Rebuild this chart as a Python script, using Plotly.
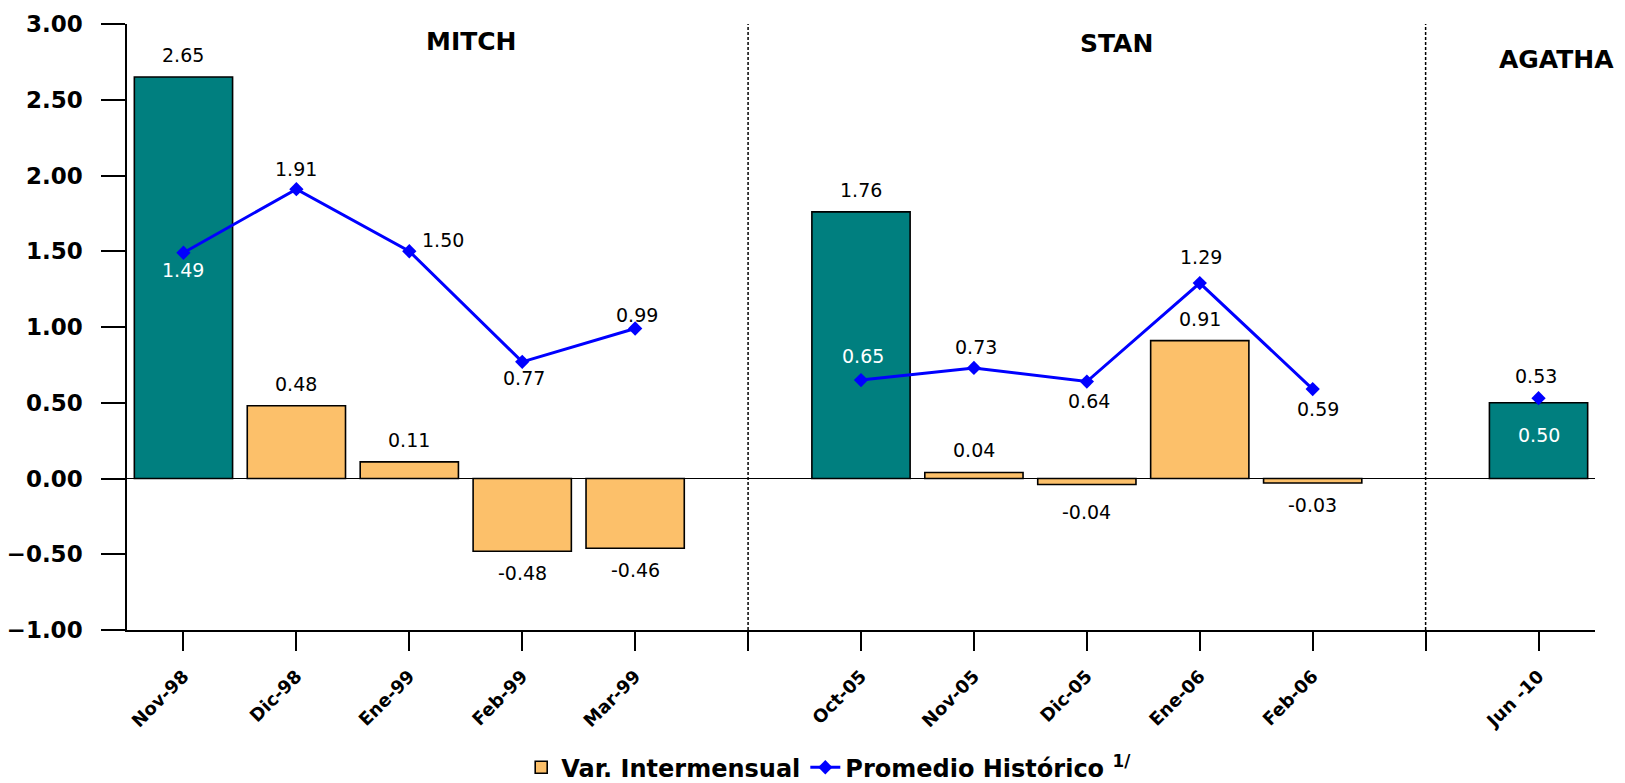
import plotly.graph_objects as go

# Monthly inflation variation around three storms (Mitch, Stan, Agatha)
categories = ["Nov-98", "Dic-98", "Ene-99", "Feb-99", "Mar-99", "",
              "Oct-05", "Nov-05", "Dic-05", "Ene-06", "Feb-06", "",
              "Jun -10"]
var_intermensual = [2.65, 0.48, 0.11, -0.48, -0.46, None,
                    1.76, 0.04, -0.04, 0.91, -0.03, None,
                    0.50]
promedio_historico = [1.49, 1.91, 1.50, 0.77, 0.99, None,
                      0.65, 0.73, 0.64, 1.29, 0.59, None,
                      0.53]
# month in which each storm hit
mes_evento = ["Nov-98", "Oct-05", "Jun -10"]
eventos = ["MITCH", "STAN", "AGATHA"]

# styling
TEAL = "#007F7F"
ORANGE = "#FCC06A"
BLUE = "#0000FF"
LABEL_FONT = dict(family="DejaVu Sans", size=19, color="black")
BOLD = "DejaVu Sans"

xs = list(range(len(categories)))
separators = [i for i, c in enumerate(categories) if c == ""]
month_pos = [i for i, c in enumerate(categories) if c != ""]
month_txt = [categories[i] for i in month_pos]

evento_y = [v if categories[i] in mes_evento else None for i, v in enumerate(var_intermensual)]
resto_y = [v if (categories[i] not in mes_evento and v is not None) else None
           for i, v in enumerate(var_intermensual)]

fig = go.Figure()

fig.add_trace(go.Bar(
    x=xs, y=resto_y, name="Var. Intermensual",
    marker=dict(color=ORANGE, line=dict(color="black", width=1.6)),
    width=0.87, hoverinfo="skip",
))
fig.add_trace(go.Bar(
    x=xs, y=evento_y, name="Mes del evento", showlegend=False,
    marker=dict(color=TEAL, line=dict(color="black", width=1.6)),
    width=0.87, hoverinfo="skip",
))
fig.add_trace(go.Scatter(
    x=xs, y=promedio_historico, name="Promedio Histórico <sup>1/</sup>",
    mode="lines+markers", connectgaps=False,
    line=dict(color=BLUE, width=3),
    marker=dict(symbol="diamond", size=11, color=BLUE),
    hoverinfo="skip",
))

annotations = []

# value labels for the bars: above positive, below negative
bar_label_style = {"Jun -10": (-32, "white"), "Dic-05": (-27, "black")}
for i, v in enumerate(var_intermensual):
    if v is None:
        continue
    shift, color = bar_label_style.get(categories[i], (22 if v >= 0 else -22, "black"))
    annotations.append(dict(
        x=i, y=v, xref="x", yref="y", text=f"{v:.2f}", showarrow=False,
        yshift=shift, font=dict(LABEL_FONT, color=color),
    ))

# value labels for the historical average line (xshift, yshift, colour)
line_label_style = {
    "Nov-98": (0, -17, "white"), "Dic-98": (0, 20, "black"),
    "Ene-99": (34, 11, "black"), "Feb-99": (2, -16, "black"),
    "Mar-99": (2, 14, "black"), "Oct-05": (2, 24, "white"),
    "Nov-05": (2, 21, "black"), "Dic-05": (2, -19, "black"),
    "Ene-06": (1, 26, "black"), "Feb-06": (5, -20, "black"),
    "Jun -10": (-3, 22, "black"),
}
for i, v in enumerate(promedio_historico):
    if v is None:
        continue
    dx, dy, color = line_label_style[categories[i]]
    annotations.append(dict(
        x=i, y=v, xref="x", yref="y", text=f"{v:.2f}", showarrow=False,
        xshift=dx, yshift=dy, font=dict(LABEL_FONT, color=color),
    ))

# storm names over each group
evento_pos = [(2.55, 2.885), (8.26, 2.87), (12.16, 2.765)]
for name, (ex, ey) in zip(eventos, evento_pos):
    annotations.append(dict(
        x=ex, y=ey, xref="x", yref="y", text=f"<b>{name}</b>", showarrow=False,
        font=dict(family=BOLD, size=25, color="black"),
    ))

# dotted separators between storms
shapes = [dict(type="line", xref="x", yref="y", x0=s, x1=s, y0=-1, y1=3,
               line=dict(color="black", width=1.5, dash="3px,2px"))
          for s in separators]
# zero line
shapes.append(dict(type="line", xref="paper", yref="y", x0=0, x1=1, y0=0, y1=0,
                   line=dict(color="black", width=1)))

fig.update_layout(
    width=1625, height=783,
    margin=dict(l=127, r=30, t=24, b=153, autoexpand=False),
    paper_bgcolor="white", plot_bgcolor="white",
    barmode="overlay",
    showlegend=True,
    legend=dict(orientation="h", x=0.478, xanchor="center", y=-0.19, yanchor="top",
                font=dict(family=BOLD, size=24, color="black", weight="bold"),
                traceorder="normal", itemwidth=30),
    annotations=annotations,
    shapes=shapes,
)
fig.update_xaxes(
    range=[-0.5, 12.5], tickmode="array", tickvals=month_pos, ticktext=month_txt,
    tickangle=-45, ticks="outside", ticklen=19, tickcolor="black", tickwidth=1.5,
    showline=True, linecolor="black", linewidth=1.5, showgrid=False, zeroline=False,
    tickfont=dict(family=BOLD, size=18, color="black", weight="bold"),
    ticklabelstandoff=8,
    minor=dict(tickmode="array", tickvals=separators, ticks="outside", ticklen=19,
               tickcolor="black", tickwidth=1.5, showgrid=False),
)
fig.update_yaxes(
    range=[-1, 3], tickmode="linear", tick0=-1, dtick=0.5, tickformat=".2f",
    ticks="outside", ticklen=24, tickcolor="black", tickwidth=1.5,
    showline=True, linecolor="black", linewidth=1.5, showgrid=False, zeroline=False,
    tickfont=dict(family=BOLD, size=23, color="black", weight="bold"),
    ticklabelstandoff=14,
)

fig.write_html("out.html")
